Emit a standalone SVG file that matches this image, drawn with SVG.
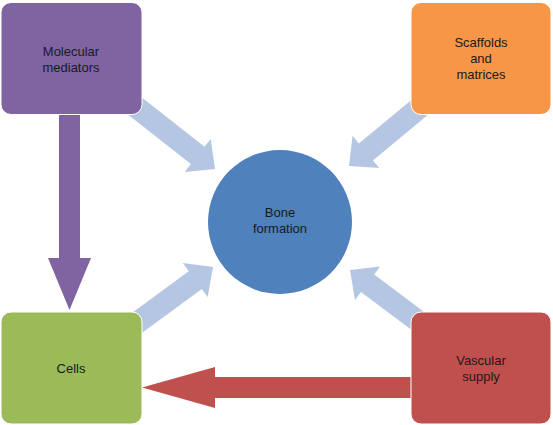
<svg xmlns="http://www.w3.org/2000/svg" width="553" height="425" viewBox="0 0 553 425">
  <defs>
    <style>
      .box { stroke: #ffffff; stroke-width: 1; }
      .lbl { font-family: "Liberation Sans", Arial, sans-serif; font-size: 13px; fill: #1a1a1a; text-anchor: middle; }
      .thin { fill: #B4C6E1; }
    </style>
    <polygon id="fat" points="-120,-11 -22,-11 -22,-21 0,0 -22,21 -22,11 -120,11"/>
  </defs>
  <rect width="553" height="425" fill="#ffffff"/>
  <g id="connectors">
    <use href="#fat" class="thin" transform="translate(215,169) rotate(38.2)"/>
    <use href="#fat" class="thin" transform="translate(349,166) rotate(140.3)"/>
    <use href="#fat" class="thin" transform="translate(213,267) rotate(-36.3)"/>
    <use href="#fat" class="thin" transform="translate(350,270) rotate(-143.1)"/>
    <polygon fill="#8064A2" points="59,100 80,100 80,258 91,258 69.5,310 48,258 59,258"/>
    <polygon fill="#C0504D" points="420,377 215,377 215,367 142,387.5 215,408 215,398 420,398"/>
  </g>
  <g id="molecular">
    <rect class="box" x="1" y="2.5" width="141" height="112" rx="10" fill="#8064A2"/>
    <text class="lbl" x="71" y="56">Molecular</text>
    <text class="lbl" x="71" y="72">mediators</text>
  </g>
  <g id="scaffolds">
    <rect class="box" x="411" y="2.5" width="140" height="112" rx="10" fill="#F79646"/>
    <text class="lbl" x="481" y="47">Scaffolds</text>
    <text class="lbl" x="481" y="63">and</text>
    <text class="lbl" x="481" y="79">matrices</text>
  </g>
  <g id="bone">
    <circle cx="280" cy="222" r="72" fill="#4F81BD"/>
    <text class="lbl" x="280" y="217">Bone</text>
    <text class="lbl" x="280" y="233">formation</text>
  </g>
  <g id="cells">
    <rect class="box" x="1" y="312" width="141" height="112" rx="10" fill="#9BBB59"/>
    <text class="lbl" x="71" y="373">Cells</text>
  </g>
  <g id="vascular">
    <rect class="box" x="411" y="312" width="140" height="112" rx="10" fill="#C0504D"/>
    <text class="lbl" x="481" y="365">Vascular</text>
    <text class="lbl" x="481" y="381">supply</text>
  </g>
</svg>
